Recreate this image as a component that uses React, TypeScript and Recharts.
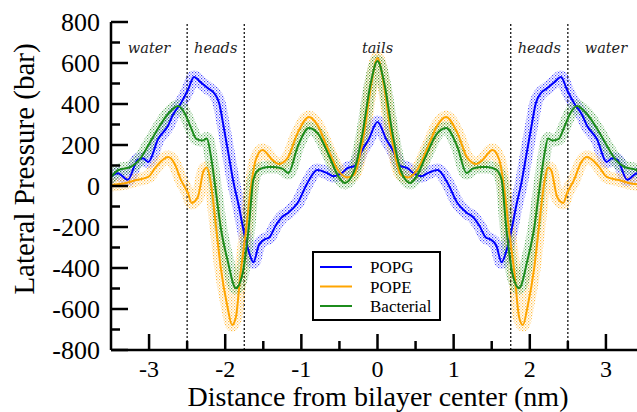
import React from "react";
import {
  ComposedChart, Line, XAxis, YAxis, ReferenceLine, ReferenceArea, Legend
} from "recharts";

// distance from bilayer center (nm) and lateral pressure (bar)
const popgX = [
  -3.5, -3.41, -3.28, -3.15, -3.08, -3.01, -2.88, -2.75, -2.69, -2.58,
  -2.49, -2.41, -2.32, -2.22, -2.15, -2.08, -2.02, -1.95, -1.89, -1.82,
  -1.76, -1.69, -1.63, -1.56, -1.49, -1.42, -1.34, -1.25, -1.17, -1.05,
  -0.92, -0.79, -0.66, -0.58, -0.48, -0.39, -0.3, -0.2, -0.12, 0,
  0.12, 0.2, 0.3, 0.39, 0.48, 0.58, 0.66, 0.79, 0.92, 1.05,
  1.17, 1.25, 1.34, 1.42, 1.49, 1.56, 1.63, 1.69, 1.76, 1.82,
  1.89, 1.95, 2.02, 2.08, 2.15, 2.22, 2.32, 2.41, 2.49, 2.58,
  2.69, 2.75, 2.88, 3.01, 3.08, 3.15, 3.28, 3.41, 3.5,
];
const popgY = [
  45, 62, 30, 128, 135, 117, 230, 295, 345, 405,
  468, 532, 505, 475, 455, 405, 288, 141, 15, -100,
  -215, -320, -372, -290, -262, -250, -195, -150, -130, -83,
  15, 78, 63, 48, 60, 88, 98, 176, 224, 312,
  224, 176, 98, 88, 60, 48, 63, 78, 15, -83,
  -130, -150, -195, -250, -262, -290, -372, -320, -215, -100,
  15, 141, 288, 405, 455, 475, 505, 532, 468, 405,
  345, 295, 230, 117, 135, 128, 30, 62, 45,
];

const popeX = [
  -3.5, -3.3, -3.17, -3.01, -2.91, -2.75, -2.67, -2.58, -2.49, -2.44,
  -2.36, -2.28, -2.24, -2.19, -2.12, -2.06, -1.97, -1.91, -1.86, -1.8,
  -1.73, -1.66, -1.6, -1.51, -1.38, -1.3, -1.18, -1.05, -0.9, -0.79,
  -0.66, -0.52, -0.4, -0.31, -0.18, -0.08, 0,
  0.08, 0.18, 0.31, 0.4, 0.52, 0.66, 0.79, 0.9, 1.05, 1.18,
  1.3, 1.38, 1.51, 1.6, 1.66, 1.73, 1.8, 1.86, 1.91, 1.97,
  2.06, 2.12, 2.19, 2.24, 2.28, 2.36, 2.44, 2.49, 2.58, 2.67,
  2.75, 2.91, 3.01, 3.17, 3.3, 3.5,
];
const popeY = [
  5, 15, 29, 44, 93, 141, 112, 29, -34, -83,
  -54, 78, 90, 15, -200, -395, -590, -678, -640, -430,
  -225, 0, 127, 176, 127, 107, 137, 258, 337, 298,
  190, 78, 42, 54, 250, 500, 624,
  500, 250, 54, 42, 78, 190, 298, 337, 258, 137,
  107, 127, 176, 127, 0, -225, -430, -640, -678, -590,
  -395, -200, 15, 90, 78, -54, -83, -34, 29, 112,
  141, 93, 44, 29, 15, 5,
];

const bactX = [
  -3.5, -3.4, -3.24, -3.13, -3.0, -2.87, -2.74, -2.62, -2.54, -2.45,
  -2.38, -2.3, -2.24, -2.19, -2.12, -2.06, -1.97, -1.86, -1.77, -1.69,
  -1.63, -1.56, -1.44, -1.36, -1.25, -1.17, -1.05, -0.9, -0.77, -0.64,
  -0.51, -0.43, -0.31, -0.2, -0.09, 0,
  0.09, 0.2, 0.31, 0.43, 0.51, 0.64, 0.77, 0.9, 1.05, 1.17,
  1.25, 1.36, 1.44, 1.56, 1.63, 1.69, 1.77, 1.86, 1.97, 2.06,
  2.12, 2.19, 2.24, 2.3, 2.38, 2.45, 2.54, 2.62, 2.74, 2.87,
  3.0, 3.13, 3.24, 3.4, 3.5,
];
const bactY = [
  44, 78, 93, 127, 205, 288, 356, 390, 360, 285,
  230, 222, 232, 150, -34, -200, -361, -498, -424, -200,
  30, 80, 93, 93, 85, 63, 190, 283, 249, 150,
  45, 15, 70, 250, 500, 610,
  500, 250, 70, 15, 45, 150, 249, 283, 190, 63,
  85, 93, 93, 80, 30, -200, -424, -498, -361, -200,
  -34, 150, 232, 222, 230, 285, 360, 390, 356, 288,
  205, 127, 93, 78, 44,
];

const seriesNames = ["POPG", "POPE", "Bacterial"];
const seriesColors = ["#0000ff", "#ffa500", "#1c8c1c"];

const xTicks = [-3, -2.5, -2, -1.5, -1, -0.5, 0, 0.5, 1, 1.5, 2, 2.5, 3];
const yTicks = [-800, -700, -600, -500, -400, -300, -200, -100, 0, 100, 200, 300, 400, 500, 600, 700, 800];
const boundaries = [-2.5, -1.75, 1.75, 2.5];
const regionNames = ["water", "heads", "tails", "heads", "water"];
const regionEdges = [-3.5, -2.5, -1.75, 1.75, 2.5, 3.5];

const SERIF = "'Liberation Serif', 'Times New Roman', serif";

const toPoints = (xs: number[], ys: number[]) => xs.map((x, i) => ({ x, y: ys[i] }));
const series = [
  toPoints(popgX, popgY),
  toPoints(popeX, popeY),
  toPoints(bactX, bactY),
];

function BottomTick({ x, y, payload }: any) {
  const v = payload.value;
  const major = Number.isInteger(v);
  return (
    <g>
      <line x1={x} x2={x} y1={y} y2={y - (major ? 16 : 9)} stroke="#000" strokeWidth={2.5} />
      {major && (
        <text x={x} y={y + 27} textAnchor="middle" fontFamily={SERIF} fontSize={24} fill="#000">{v}</text>
      )}
    </g>
  );
}

function TopTick({ x, y, payload }: any) {
  const major = Number.isInteger(payload.value);
  return <line x1={x} x2={x} y1={y} y2={y + (major ? 16 : 9)} stroke="#000" strokeWidth={2.5} />;
}

function LeftTick({ x, y, payload }: any) {
  const v = payload.value;
  const major = v % 200 === 0;
  return (
    <g>
      <line x1={x} x2={x + (major ? 17 : 9)} y1={y} y2={y} stroke="#000" strokeWidth={2.5} />
      {major && (
        <text x={x - 11} y={y + 9} textAnchor="end" fontFamily={SERIF} fontSize={26} fill="#000">{v}</text>
      )}
    </g>
  );
}

function RightTick({ x, y, payload }: any) {
  const major = payload.value % 200 === 0;
  return <line x1={x} x2={x - (major ? 17 : 9)} y1={y} y2={y} stroke="#000" strokeWidth={2.5} />;
}

function LegendBox() {
  return (
    <svg width={129} height={70}>
      <rect x={1} y={1} width={127} height={68} fill="#fff" stroke="#000" strokeWidth={2} />
      {seriesNames.map((name, i) => (
        <g key={name}>
          <line x1={8} x2={40} y1={16 + i * 19.5} y2={16 + i * 19.5} stroke={seriesColors[i]} strokeWidth={2} />
          <text x={58} y={22 + i * 19.5} fontFamily={SERIF} fontSize={17} fill="#000">{name}</text>
        </g>
      ))}
    </svg>
  );
}

const regionLabel = (text: string) => (props: any) => {
  const vb = props.viewBox || {};
  return (
    <text x={vb.x + vb.width / 2} y={vb.y + 31} textAnchor="middle" fontFamily="'DejaVu Serif', serif"
      fontStyle="italic" fontSize={14.5} fill="#222">{text}</text>
  );
};

export default function App() {
  return (
    <div style={{ position: "absolute", left: 0, top: 0, width: 637, height: 412, overflow: "hidden", background: "#fff" }}>
      <ComposedChart width={660} height={412} margin={{ top: 22, right: 16, bottom: 32, left: 51 }}>
        <defs>
          {seriesColors.map((c, i) => (
            <pattern key={c} id={`band${i}`} width={3} height={3} patternUnits="userSpaceOnUse">
              <rect x={0} y={0} width={1.2} height={1.2} fill={c} fillOpacity={0.75} />
              <rect x={1.5} y={1.5} width={1.2} height={1.2} fill={c} fillOpacity={0.6} />
            </pattern>
          ))}
        </defs>
        <XAxis type="number" dataKey="x" domain={[-3.5, 3.5]} ticks={xTicks} allowDataOverflow
          height={30} tickSize={0} tickMargin={0} tick={<BottomTick />} tickLine={false}
          axisLine={{ stroke: "#000", strokeWidth: 2.5 }} interval={0} />
        <XAxis xAxisId="t" orientation="top" type="number" dataKey="x" domain={[-3.5, 3.5]} ticks={xTicks}
          allowDataOverflow height={0} tickSize={0} tickMargin={0} tick={<TopTick />} tickLine={false}
          axisLine={{ stroke: "#000", strokeWidth: 2.5 }} interval={0} />
        <YAxis type="number" domain={[-800, 800]} ticks={yTicks} allowDataOverflow width={60}
          tickSize={0} tickMargin={0} tick={<LeftTick />} tickLine={false}
          axisLine={{ stroke: "#000", strokeWidth: 2.5 }} interval={0} />
        <YAxis yAxisId="r" orientation="right" type="number" domain={[-800, 800]} ticks={yTicks}
          allowDataOverflow width={0} tickSize={0} tickMargin={0} tick={<RightTick />} tickLine={false}
          axisLine={{ stroke: "#000", strokeWidth: 2.5 }} interval={0} />

        {regionNames.map((name, i) => (
          <ReferenceArea key={`r${i}`} x1={regionEdges[i]} x2={regionEdges[i + 1]} fillOpacity={0}
            strokeOpacity={0} label={{ content: regionLabel(name) }} />
        ))}
        {boundaries.map((b) => (
          <ReferenceLine key={b} x={b} stroke="#000" strokeWidth={1.2} strokeDasharray="2 2" />
        ))}

        {series.map((d, i) => (
          <Line key={`band${i}`} data={d} dataKey="y" type="monotone" stroke={`url(#band${i})`}
            strokeWidth={13} strokeLinejoin="round" strokeLinecap="round" dot={false} activeDot={false}
            legendType="none" isAnimationActive={false} />
        ))}
        {series.map((d, i) => (
          <Line key={seriesNames[i]} name={seriesNames[i]} data={d} dataKey="y" type="monotone"
            stroke={seriesColors[i]} strokeWidth={2} dot={false} activeDot={false} isAnimationActive={false} />
        ))}

        <Legend layout="vertical" align="center" verticalAlign="middle" content={() => <LegendBox />}
          wrapperStyle={{ left: 312, top: 251, width: 129, height: 70 }} />
      </ComposedChart>

      <svg width={637} height={412} style={{ position: "absolute", left: 0, top: 0, pointerEvents: "none" }}>
        <text x={378} y={406} textAnchor="middle" fontFamily={SERIF} fontSize={28} fill="#000">
          Distance from bilayer center (nm)
        </text>
        <text x={34} y={169} textAnchor="middle" fontFamily={SERIF} fontSize={29} fill="#000"
          transform="rotate(-90 34 169)">
          Lateral Pressure (bar)
        </text>
      </svg>
    </div>
  );
}
